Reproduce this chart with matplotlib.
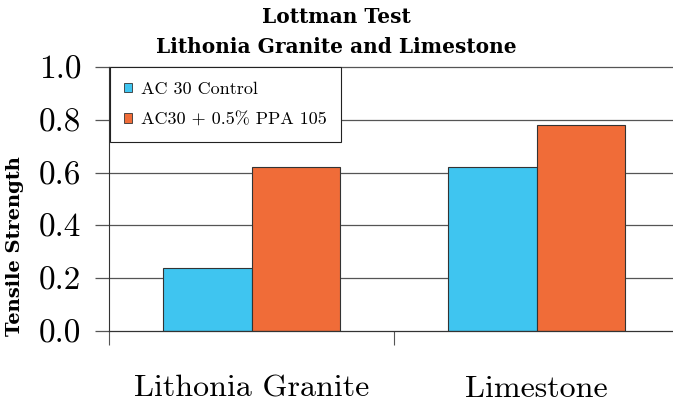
import numpy as np
import matplotlib
matplotlib.use("Agg")
import matplotlib.pyplot as plt

categories = ["Lithonia Granite", "Limestone"]
series_names = ["AC 30 Control", "AC30 + 0.5% PPA 105"]
control = [0.24, 0.62]
ppa = [0.62, 0.78]
yticks = [0.0, 0.2, 0.4, 0.6, 0.8, 1.0]

colors = ["#3fc5f0", "#f06c38"]

plt.rcParams["font.family"] = ["cmr10", "DejaVu Serif"]
plt.rcParams["axes.formatter.use_mathtext"] = True

fig = plt.figure(figsize=(6.73, 4.03), dpi=100)
ax = fig.add_axes([109 / 673, 72 / 403, 570 / 673, 264 / 403])

x = np.arange(len(categories))
w = 0.31
ax.bar(x - w / 2, control, w, color=colors[0], edgecolor="#333333", linewidth=0.8,
       label=series_names[0], zorder=3)
ax.bar(x + w / 2, ppa, w, color=colors[1], edgecolor="#333333", linewidth=0.8,
       label=series_names[1], zorder=3)

ax.set_xlim(-0.5, 1.5)
ax.set_ylim(0, 1.0)
ax.set_yticks(yticks)
ax.set_yticklabels([f"{v:.1f}" for v in yticks], fontsize=24)
for v in yticks:
    ax.axhline(v, color="#333333" if v == 0 else "#555555", linewidth=0.9,
               zorder=4 if v == 0 else 1, clip_on=False)

# category labels sit between the divider ticks
ax.set_xticks([-0.5, 0.5, 1.5])
ax.set_xticklabels([])
ax.set_xticks(x, minor=True)
ax.set_xticklabels(categories, minor=True, fontsize=23)
ax.tick_params(axis="x", which="major", length=10, width=0.8, color="#555555", direction="out")
ax.tick_params(axis="x", which="minor", length=0, pad=32)
ax.tick_params(axis="y", length=10, width=0.9, color="#555555", pad=10)

for s in ["top", "right", "bottom"]:
    ax.spines[s].set_visible(False)
ax.spines["left"].set_color("#333333")
ax.spines["left"].set_linewidth(0.8)

ax.set_ylabel("Tensile Strength", fontfamily="DejaVu Serif", fontweight="bold", fontsize=14)
ax.yaxis.set_label_coords((24 - 109) / 570, 0.32)

fig.text(0.5, 1 - 17 / 403, "Lottman Test", ha="center", va="center",
         fontfamily="DejaVu Serif", fontweight="bold", fontsize=14.5)
fig.text(0.5, 1 - 47 / 403, "Lithonia Granite and Limestone", ha="center", va="center",
         fontfamily="DejaVu Serif", fontweight="bold", fontsize=14.5)

leg = ax.legend(loc="upper left", bbox_to_anchor=(110 / 673, 1 - 67 / 403),
                bbox_transform=fig.transFigure, fontsize=13, fancybox=False,
                edgecolor="#222222", framealpha=1, handlelength=0.4, handleheight=0.4,
                handletextpad=0.5, labelspacing=0.85, borderpad=0.8, borderaxespad=0)
leg.get_frame().set_linewidth(0.8)
for h in leg.legend_handles:
    h.set_edgecolor("#333333")
    h.set_linewidth(0.6)
leg.set_zorder(5)

fig.savefig("out.png", dpi=100)
